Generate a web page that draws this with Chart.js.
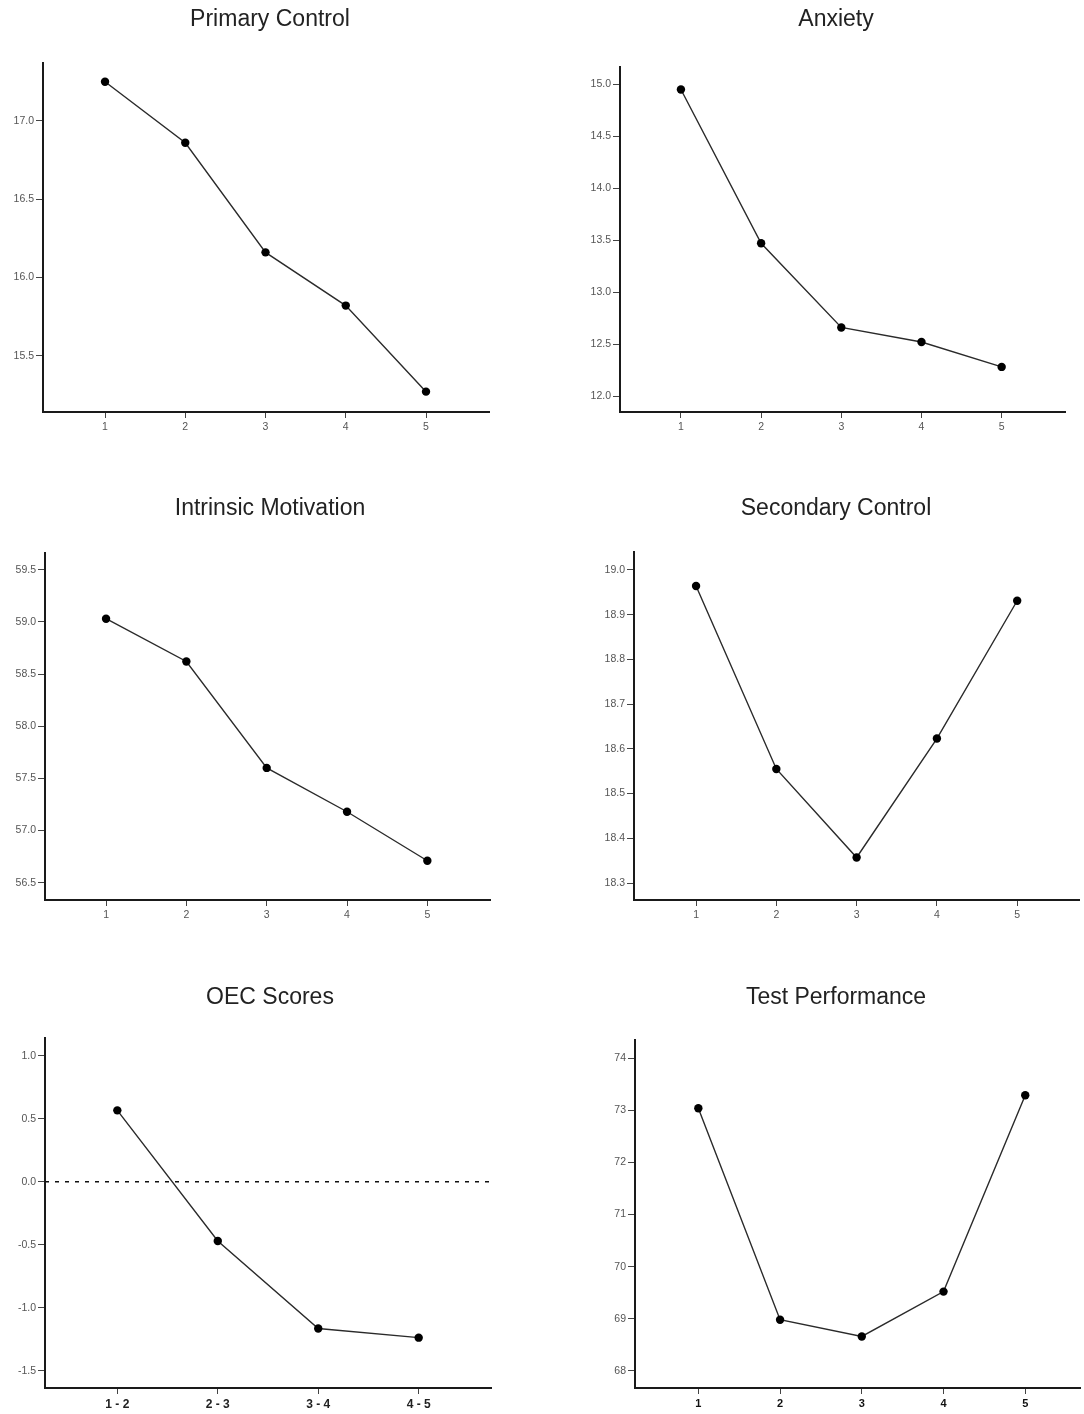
<!DOCTYPE html>
<html>
<head>
<meta charset="utf-8">
<script src="https://cdn.jsdelivr.net/npm/chart.js@4.4.1/dist/chart.umd.min.js"></script>
<style>
  body { margin: 0; background: #fff; overflow: hidden; }
  #wrap { position: relative; width: 1084px; height: 1414px; overflow: hidden; }
  .panel { position: absolute; width: 540px; height: 489px; }
</style>
</head>
<body>
<div id="wrap"></div>
<script>
// x positions (measurement waves) and OEC interval labels
const waves = [1, 2, 3, 4, 5];
const oecLabels = ["1 - 2", "2 - 3", "3 - 4", "4 - 5"];

// series values
const primaryControl = [17.25, 16.86, 16.16, 15.82, 15.27];
const anxiety = [14.95, 13.47, 12.66, 12.52, 12.28];
const intrinsicMotivation = [59.03, 58.62, 57.6, 57.18, 56.71];
const secondaryControl = [18.964, 18.555, 18.357, 18.623, 18.931];
const oecScores = [0.568, -0.47, -1.165, -1.238];
const testPerformance = [73.04, 68.98, 68.66, 69.52, 73.29];

// y tick labels
const primaryTicks = [15.5, 16.0, 16.5, 17.0];
const anxietyTicks = [12.0, 12.5, 13.0, 13.5, 14.0, 14.5, 15.0];
const intrinsicTicks = [56.5, 57.0, 57.5, 58.0, 58.5, 59.0, 59.5];
const secondaryTicks = [18.3, 18.4, 18.5, 18.6, 18.7, 18.8, 18.9, 19.0];
const oecTicks = [-1.5, -1.0, -0.5, 0.0, 0.5, 1.0];
const testTicks = [68, 69, 70, 71, 72, 73, 74];

// axis limits
const primaryRange = [15.14, 17.37];
const anxietyRange = [11.846, 15.167];
const intrinsicRange = [56.334, 59.66];
const secondaryRange = [18.262, 19.04];
const oecRange = [-1.638, 1.143];
const testRange = [67.67, 74.35];

// OEC reference line value
const oecReference = 0;

const FONT = "'Liberation Sans', Arial, Helvetica, sans-serif";
const PANEL_W = 540, PANEL_H = 489;

const panels = [
  { title: "Primary Control", values: primaryControl, x: waves, yTicks: primaryTicks, yRange: primaryRange, xRange: [0.227, 5.785], dec: 1,
    left: 0, top: 0, axisLeft: 43, axisRight: 489, axisTop: 63, axisBottom: 412 },
  { title: "Anxiety", values: anxiety, x: waves, yTicks: anxietyTicks, yRange: anxietyRange, xRange: [0.24, 5.79], dec: 1,
    left: 566, top: 0, axisLeft: 620, axisRight: 1065, axisTop: 67, axisBottom: 412 },
  { title: "Intrinsic Motivation", values: intrinsicMotivation, x: waves, yTicks: intrinsicTicks, yRange: intrinsicRange, xRange: [0.24, 5.78], dec: 1,
    left: 0, top: 489, axisLeft: 45, axisRight: 490, axisTop: 553, axisBottom: 900 },
  { title: "Secondary Control", values: secondaryControl, x: waves, yTicks: secondaryTicks, yRange: secondaryRange, xRange: [0.227, 5.77], dec: 1,
    left: 566, top: 489, axisLeft: 634, axisRight: 1079, axisTop: 552, axisBottom: 900 },
  { title: "OEC Scores", values: oecScores, x: [1, 2, 3, 4], xNames: oecLabels, yTicks: oecTicks, yRange: oecRange, xRange: [0.28, 4.72], dec: 1,
    left: 0, top: 978, axisLeft: 45, axisRight: 491, axisTop: 1038, axisBottom: 1388, refLine: oecReference, xFont: { size: 12, weight: "bold" }, xColor: "#222" },
  { title: "Test Performance", values: testPerformance, x: waves, yTicks: testTicks, yRange: testRange, xRange: [0.225, 5.67], dec: 0,
    left: 566, top: 978, axisLeft: 635, axisRight: 1080, axisTop: 1040, axisBottom: 1388, xFont: { size: 11, weight: "bold" }, xColor: "#111" },
];

// panel title, centred on the panel box (not on the plot area)
const panelTitlePlugin = {
  id: "panelTitle",
  afterDraw(chart, args, opts) {
    const ctx = chart.ctx;
    ctx.save();
    ctx.font = "23px " + FONT;
    ctx.fillStyle = "#222";
    ctx.textAlign = "center";
    ctx.textBaseline = "middle";
    ctx.fillText(opts.text, chart.width / 2, 20);
    ctx.restore();
  },
};

// dashed horizontal reference line
const refLinePlugin = {
  id: "refLine",
  beforeDatasetsDraw(chart, args, opts) {
    if (opts.value === undefined || opts.value === null) return;
    const { ctx, chartArea } = chart;
    const y = chart.scales.y.getPixelForValue(opts.value);
    ctx.save();
    ctx.strokeStyle = "#111";
    ctx.lineWidth = 1.5;
    ctx.setLineDash([4, 6]);
    ctx.beginPath();
    ctx.moveTo(chartArea.left, y);
    ctx.lineTo(chartArea.right, y);
    ctx.stroke();
    ctx.restore();
  },
};

const wrap = document.getElementById("wrap");

panels.forEach((p) => {
  const div = document.createElement("div");
  div.className = "panel";
  div.style.left = p.left + "px";
  div.style.top = p.top + "px";
  const canvas = document.createElement("canvas");
  div.appendChild(canvas);
  wrap.appendChild(div);

  const yAxisWidth = p.axisLeft - p.left;
  const padRight = p.left + PANEL_W - p.axisRight;
  const padTop = p.axisTop - p.top;
  const xAxisHeight = p.top + PANEL_H - p.axisBottom;

  new Chart(canvas.getContext("2d"), {
    type: "line",
    data: {
      datasets: [
        {
          data: p.values.map((v, i) => ({ x: p.x[i], y: v })),
          borderColor: "#2a2a2a",
          borderWidth: 1.4,
          pointRadius: 4.2,
          pointBackgroundColor: "#000",
          pointBorderColor: "#000",
          pointBorderWidth: 0,
          fill: false,
          tension: 0,
        },
      ],
    },
    options: {
      responsive: true,
      maintainAspectRatio: false,
      animation: false,
      layout: { padding: { left: 0, right: padRight, top: padTop, bottom: 0 } },
      plugins: {
        legend: { display: false },
        tooltip: { enabled: false },
        title: { display: false },
        panelTitle: { text: p.title },
        refLine: { value: p.refLine },
      },
      scales: {
        x: {
          type: "linear",
          min: p.xRange[0],
          max: p.xRange[1],
          afterBuildTicks: (s) => { s.ticks = p.x.map((v) => ({ value: v })); },
          afterFit: (s) => { s.height = xAxisHeight; },
          grid: { drawOnChartArea: false, drawTicks: true, tickLength: 6, tickColor: "#444", tickWidth: 1 },
          border: { display: true, color: "#1a1a1a", width: 2 },
          ticks: {
            padding: 3,
            maxRotation: 0,
            color: p.xColor || "#555",
            font: Object.assign({ family: FONT, size: 10.5 }, p.xFont || {}),
            callback: (v) => (p.xNames ? p.xNames[p.x.indexOf(v)] : String(v)),
          },
        },
        y: {
          type: "linear",
          min: p.yRange[0],
          max: p.yRange[1],
          afterBuildTicks: (s) => { s.ticks = p.yTicks.map((v) => ({ value: v })); },
          afterFit: (s) => { s.width = yAxisWidth; },
          grid: { drawOnChartArea: false, drawTicks: true, tickLength: 7, tickColor: "#444", tickWidth: 1 },
          border: { display: true, color: "#1a1a1a", width: 2 },
          ticks: {
            padding: 2,
            color: "#555",
            font: { family: FONT, size: 10.5 },
            callback: (v) => Number(v).toFixed(p.dec),
          },
        },
      },
    },
    plugins: [refLinePlugin, panelTitlePlugin],
  });
});
</script>
</body>
</html>
